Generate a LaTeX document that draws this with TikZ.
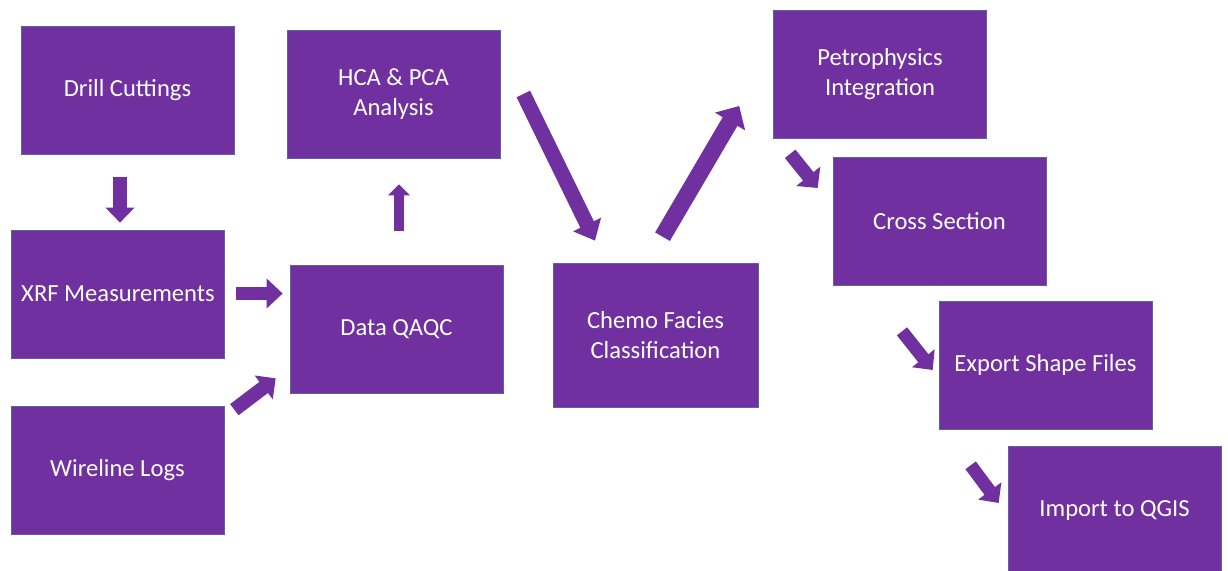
\documentclass[tikz,border=0pt]{standalone}
\usepackage{fontspec}
\setmainfont{Carlito}
\usepackage{tikz}
\usetikzlibrary{arrows.meta,calc,positioning}
\definecolor{boxpurple}{HTML}{7030A0}
\definecolor{boxedge}{HTML}{5B62A8}

\begin{document}
\begin{tikzpicture}[x=0.02cm,y=-0.02cm,
    stepbox/.style={draw=boxedge,line width=0.4pt,fill=boxpurple,text=white,align=center,
      minimum width=4.26cm,minimum height=2.56cm,inner sep=0pt,font=\fontsize{14}{17}\selectfont},
    blockarrow/.style n args={3}{boxpurple,line width=#1,-{Triangle[width=#2,length=#3]}}]
          \useasboundingbox (0,0) rectangle (1228,571);
          % left column
          \node[stepbox] (drill) at (127.5,90) {Drill Cuttings};
          \node[stepbox] (xrf) at (118,294) {XRF Measurements};
          \node[stepbox] (wire) at (117.5,470.5) {Wireline Logs};
          % analysis
          \node[stepbox] (hca) at (393.5,94) {HCA \& PCA\\Analysis};
          \node[stepbox] (qaqc) at (396.5,329) {Data QAQC};
          \node[stepbox,minimum width=4.1cm,minimum height=2.88cm] (chemo) at (655.5,335) {Chemo Facies\\Classification};
          % right staircase
          \node[stepbox] (petro) at (880,74.5) {Petrophysics\\Integration};
          \node[stepbox] (cross) at (939.5,221.5) {Cross Section};
          \node[stepbox] (export) at (1045.5,365) {Export Shape Files};
          \node[stepbox] (qgis) at (1114.5,510.5) {Import to QGIS};
          % block arrows
          \draw[blockarrow={0.3cm}{0.56cm}{0.3cm}] ([shift={(-7.5,23)}]drill.south) -- ([shift={(2,-7)}]xrf.north);
          \draw[blockarrow={0.27cm}{0.58cm}{0.32cm}] ([shift={(11,-0.5)}]xrf.east) -- ([shift={(-7,-35.5)}]qaqc.west);
          \draw[blockarrow={0.28cm}{0.58cm}{0.3cm}] ([shift={(10,3.5)}]wire.north east) -- ([shift={(-14,-15)}]qaqc.south west);
          \draw[blockarrow={0.2cm}{0.42cm}{0.22cm}] ([shift={(2.5,-34)}]qaqc.north) -- ([shift={(5.5,26)}]hca.south);
          \draw[blockarrow={0.3cm}{0.6cm}{0.36cm}] ([shift={(23,0)}]hca.east) -- ([shift={(-60.5,-22)}]chemo.north);
          \draw[blockarrow={0.34cm}{0.68cm}{0.36cm}] ([shift={(7,-26)}]chemo.north) -- ([shift={(-34,31.5)}]petro.west);
          \draw[blockarrow={0.27cm}{0.6cm}{0.3cm}] ([shift={(17,15)}]petro.south west) -- ([shift={(-15,-33.5)}]cross.west);
          \draw[blockarrow={0.26cm}{0.56cm}{0.3cm}] ([shift={(-37.5,45.5)}]cross.south) -- ([shift={(-6,5)}]export.west);
          \draw[blockarrow={0.26cm}{0.56cm}{0.3cm}] ([shift={(32,36)}]export.south west) -- ([shift={(-9,-7.5)}]qgis.west);
        \end{tikzpicture}
\end{document}
